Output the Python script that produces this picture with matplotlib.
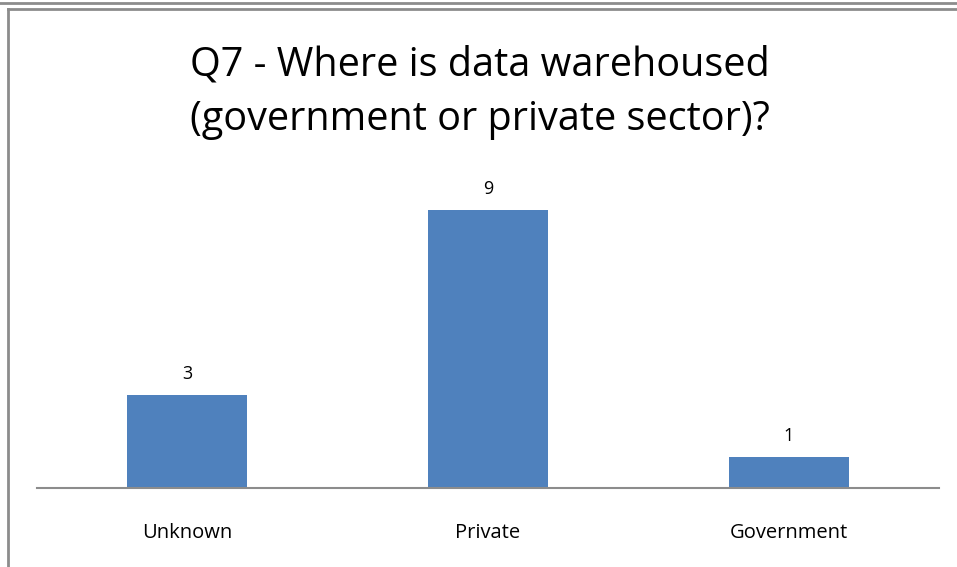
import matplotlib.pyplot as plt

categories = ['Unknown', 'Private', 'Government']
counts = [3, 9, 1]
title_lines = ['Q7 - Where is data warehoused', '(government or private sector)?']

W, H = 957, 567
fig = plt.figure(figsize=(W / 100, H / 100), dpi=100)
plt.rcParams['font.family'] = ['Open Sans', 'DejaVu Sans']

# outer frame lines (figure pixel coords)
grey = '#8c8c8c'
fig.add_artist(plt.Line2D([0, 1], [1 - 2.5 / H, 1 - 2.5 / H], color=grey, lw=2, transform=fig.transFigure))
fig.add_artist(plt.Line2D([8 / W, 1], [1 - 8.5 / H, 1 - 8.5 / H], color=grey, lw=2, transform=fig.transFigure))
fig.add_artist(plt.Line2D([8 / W, 8 / W], [0, 1 - 8.5 / H], color=grey, lw=2, transform=fig.transFigure))

# axes: x from 37 to 939 px, baseline at 488 px, 10 units = 309 px
left, right = 37, 939
bottom, top = 488, 488 - 309
ax = fig.add_axes([left / W, 1 - bottom / H, (right - left) / W, (bottom - top) / H])

x = range(len(categories))
bars = ax.bar(x, counts, width=0.4, color='#4f81bd')
ax.set_xlim(-0.5, 2.5)
ax.set_ylim(0, 10)

for b, v in zip(bars, counts):
    ax.text(b.get_x() + b.get_width() / 2, v + 0.4, str(v), ha='center', va='bottom', fontsize=13)

ax.set_xticks(list(x))
ax.set_xticklabels(categories, fontsize=14.5)
ax.tick_params(axis='x', length=0, pad=25)
ax.set_yticks([])
for s in ['top', 'right', 'left']:
    ax.spines[s].set_visible(False)
ax.spines['bottom'].set_color(grey)
ax.spines['bottom'].set_linewidth(1.5)
ax.patch.set_alpha(0)

# title, two lines placed on their baselines
for line, y in zip(title_lines, [75, 130]):
    fig.text(480 / W, 1 - y / H, line, ha='center', va='baseline', fontsize=28.5)

fig.savefig('out.png', dpi=100)
